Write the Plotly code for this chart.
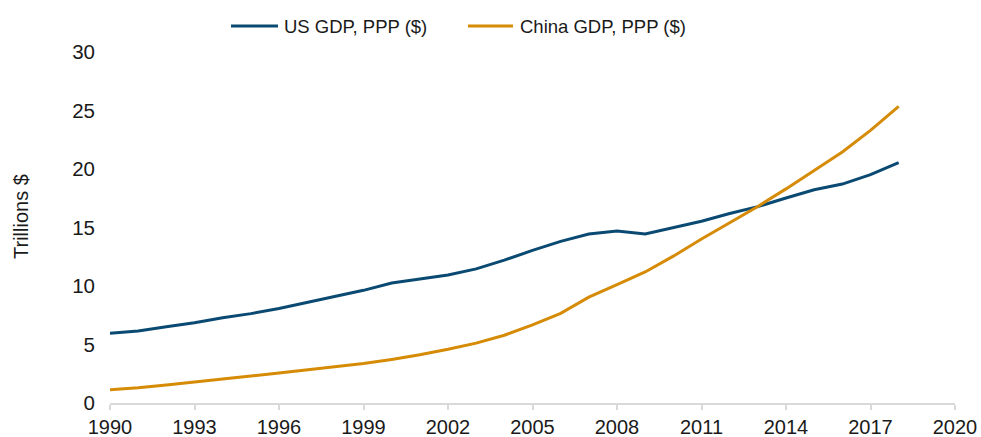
import plotly.graph_objects as go

years = list(range(1990, 2019))
us_gdp = [5.96, 6.16, 6.52, 6.86, 7.29, 7.64, 8.07, 8.58, 9.06, 9.63, 10.25, 10.58, 10.94, 11.46,
          12.21, 13.04, 13.81, 14.45, 14.71, 14.45, 14.99, 15.54, 16.20, 16.78, 17.52, 18.22,
          18.71, 19.52, 20.55]
china_gdp = [1.14, 1.30, 1.53, 1.77, 2.04, 2.30, 2.56, 2.84, 3.09, 3.37, 3.72, 4.12, 4.59, 5.12,
             5.79, 6.68, 7.66, 9.05, 10.12, 11.20, 12.55, 14.02, 15.40, 16.80, 18.30, 19.85,
             21.45, 23.30, 25.35]
x_ticks = [1990, 1993, 1996, 1999, 2002, 2005, 2008, 2011, 2014, 2017, 2020]
y_ticks = [0, 5, 10, 15, 20, 25, 30]
series_names = ["US GDP, PPP ($)", "China GDP, PPP ($)"]
colors = ["#0a4a72", "#d68b06"]
y_title = "Trillions $"

fig = go.Figure()
for name, vals, col in zip(series_names, [us_gdp, china_gdp], colors):
    fig.add_trace(go.Scatter(x=years, y=vals, mode="lines", name=name,
                             line=dict(color=col, width=3), showlegend=False))

# manual legend (line samples + labels) above the plot
leg_y = 1.074
leg_items = [(0.1432, 0.1988, 0.2035), (0.4237, 0.4769, 0.4828)]
for (x0, x1, xt), name, col in zip(leg_items, series_names, colors):
    fig.add_shape(type="line", xref="paper", yref="paper", x0=x0, x1=x1, y0=leg_y, y1=leg_y,
                  line=dict(color=col, width=3))
    fig.add_annotation(xref="paper", yref="paper", x=xt, y=leg_y, text=name, showarrow=False,
                       xanchor="left", yanchor="middle", font=dict(size=18.5, color="#1a1a1a"))

# y-axis title
fig.add_annotation(xref="paper", yref="paper", x=-0.1053, y=0.530, text=y_title,
                   textangle=-90, showarrow=False, xanchor="center", yanchor="middle",
                   font=dict(size=20, color="#1a1a1a"))

fig.update_layout(
    width=981, height=437,
    margin=dict(l=110, r=26, t=52, b=34, autoexpand=False),
    paper_bgcolor="white", plot_bgcolor="white",
    font=dict(family="Liberation Sans, Arial, sans-serif", size=20, color="#1a1a1a"),
    showlegend=False,
    xaxis=dict(range=[1990, 2020], tickvals=x_ticks, showgrid=False, zeroline=False,
               automargin=False,
               showline=True, linecolor="#d9d9d9", linewidth=2, ticks="outside",
               ticklen=5, tickwidth=1.5, tickcolor="#d9d9d9", tickfont=dict(size=20)),
    yaxis=dict(range=[0, 30], tickvals=y_ticks, showgrid=False, zeroline=False,
               automargin=False,
               showline=False, ticks="", ticklabelstandoff=14, tickfont=dict(size=20.5)),
)

fig.write_html("out.html", config={"displayModeBar": False},
               post_script="document.body.style.margin='0';"
                           "document.documentElement.style.overflow='hidden';")
